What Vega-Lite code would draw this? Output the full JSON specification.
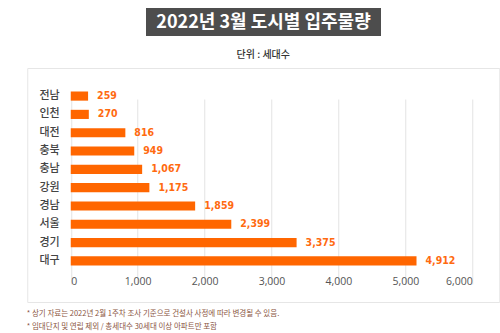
{
  "$schema": "https://vega.github.io/schema/vega-lite/v6.json",
  "padding": {"left": 26, "top": 8, "right": 2, "bottom": 0},
  "background": "white",
  "config": {"concat": {"spacing": 13}, "font": "Noto Sans CJK KR"},
  "title": {
    "text": ["* 상기 자료는 2022년 2월 1주차 조사 기준으로 건설사 사정에 따라 변경될 수 있음.", "* 임대단지 및 연립 제외 / 총세대수 30세대 이상 아파트만 포함"],
    "orient": "bottom",
    "anchor": "start",
    "font": "Noto Sans CJK KR",
    "fontSize": 7.5,
    "fontWeight": "normal",
    "color": "#8a5542",
    "lineHeight": 13.5,
    "offset": 7
  },
  "center": true,
  "vconcat": [
    {
      "width": 235,
      "height": 28,
      "view": {"fill": "#4d4d4d", "stroke": null},
      "data": {"values": [{"t": "2022년 3월 도시별 입주물량"}]},
      "mark": {"type": "text", "color": "white", "font": "Noto Sans CJK KR", "fontSize": 18, "fontWeight": "bold", "baseline": "middle", "dy": 1},
      "encoding": {"text": {"field": "t", "type": "nominal"}}
    },
    {
      "width": 472,
      "height": 234,
      "view": {"stroke": "#e6e6e6", "fill": "white"},
      "title": {"text": "단위 : 세대수", "fontSize": 10, "fontWeight": 500, "color": "#333333", "font": "Noto Sans CJK KR", "offset": 8, "anchor": "middle"},
      "data": {"values": [
        {"city": "전남", "length": 259, "label": 259},
        {"city": "인천", "length": 270, "label": 270},
        {"city": "대전", "length": 816, "label": 816},
        {"city": "충북", "length": 949, "label": 949},
        {"city": "충남", "length": 1067, "label": 1067},
        {"city": "강원", "length": 1175, "label": 1175},
        {"city": "경남", "length": 1859, "label": 1859},
        {"city": "서울", "length": 2399, "label": 2399},
        {"city": "경기", "length": 3375, "label": 3375},
        {"city": "대구", "length": 5167, "label": 4912}
      ]},
      "encoding": {
        "y": {
          "field": "city", "type": "nominal", "sort": null,
          "scale": {"range": [18, 203], "paddingInner": 0.5, "paddingOuter": 0.3},
          "axis": {"title": null, "orient": "left", "offset": -34, "ticks": false, "domain": false, "grid": false, "labelPadding": 2, "labelFont": "Noto Sans CJK KR", "labelFontSize": 11, "labelFontWeight": 500, "labelColor": "#444444"}
        },
        "x": {
          "field": "length", "type": "quantitative",
          "scale": {"domain": [0, 6000], "range": [43.5, 445], "nice": false},
          "axis": {"title": null, "orient": "bottom", "offset": -31, "values": [0, 1000, 2000, 3000, 4000, 5000, 6000], "format": ",.0f", "ticks": false, "domain": false, "grid": true, "gridColor": "#e3e3e3", "labelPadding": 5, "labelFont": "Open Sans", "labelFontSize": 10.5, "labelColor": "#555555"}
        }
      },
      "layer": [
        {"mark": {"type": "bar", "color": "#ff6600"}},
        {"mark": {"type": "text", "align": "left", "dx": 9, "baseline": "middle", "font": "DejaVu Sans Condensed", "fontSize": 10.5, "fontWeight": "bold", "color": "#ff6a10"},
         "encoding": {"text": {"field": "label", "type": "quantitative", "format": ",.0f"}}}
      ]
    }
  ]
}
